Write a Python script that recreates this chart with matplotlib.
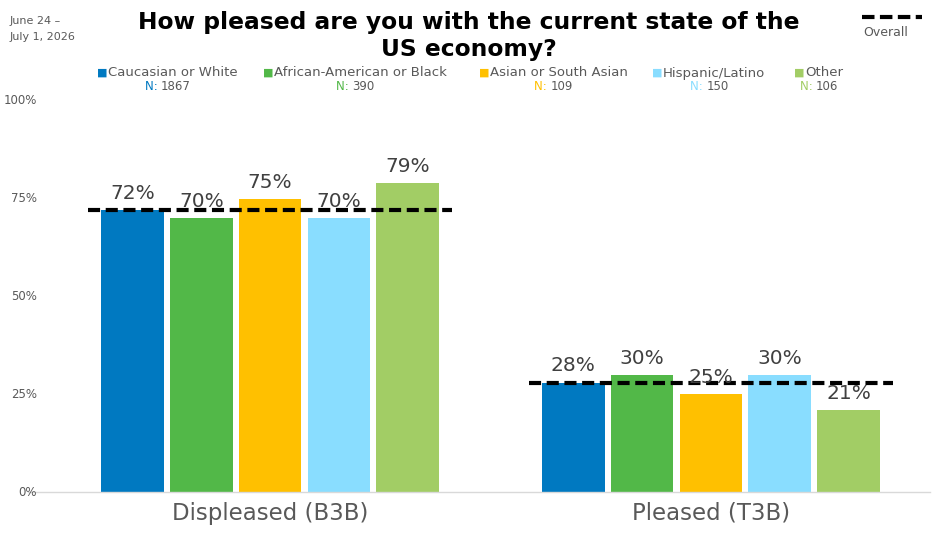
import matplotlib
matplotlib.use("Agg")
import matplotlib.pyplot as plt
import matplotlib.transforms as mtransforms
import numpy as np

# data
categories = ["Displeased (B3B)", "Pleased (T3B)"]
groups = ["Caucasian or White", "African-American or Black", "Asian or South Asian",
          "Hispanic/Latino", "Other"]
group_n = [1867, 390, 109, 150, 106]
values = {
    "Caucasian or White": [72, 28],
    "African-American or Black": [70, 30],
    "Asian or South Asian": [75, 25],
    "Hispanic/Latino": [70, 30],
    "Other": [79, 21],
}
overall = [72, 28]
colors = ["#0079C1", "#52B848", "#FFC000", "#89DDFF", "#A2CD65"]
yticks = [0, 25, 50, 75, 100]

plt.rcParams['font.family'] = ['DejaVu Sans']

W, H = 936, 540
fig = plt.figure(figsize=(W/100, H/100), dpi=100)
ax = fig.add_axes([28/W, 1-492/H, 902/W, 391/H])

x = np.arange(len(categories))
pitch = 0.156
width = 0.142
for i, g in enumerate(groups):
    xs = x + (i - 2) * pitch
    ax.bar(xs, values[g], width=width, color=colors[i], zorder=2)
    for xi, v in zip(xs, values[g]):
        ax.text(xi, v + 1.8, f"{v}%", ha="center", va="bottom",
                fontsize=14.5, color="#404040", zorder=4)

for xi, v in zip(x, overall):
    ax.plot([xi - 0.413, xi + 0.413], [v, v], color="black", lw=3,
            dashes=(2.9, 1.35), zorder=3)

ax.set_xlim(-0.549, 1.497)
ax.set_ylim(0, 100)
for s in ["top", "right", "left"]:
    ax.spines[s].set_visible(False)
ax.spines["bottom"].set_color("#D9D9D9")
ax.spines["bottom"].set_linewidth(1)
ax.set_yticks([])
ax.set_xticks([])

trans = mtransforms.blended_transform_factory(ax.transAxes, ax.transData)
for t in yticks:
    ax.text(9/902, t, f"{t}%", transform=trans, ha="right", va="center",
            fontsize=8.5, color="#595959")

for xi, c in zip(x, categories):
    ax.text(xi, -2.5, c, ha="center", va="top", fontsize=16.5, color="#595959")

# title and date
fig.text(469/W, 1-36/H, "How pleased are you with the current state of the\nUS economy?",
         ha="center", va="center", fontsize=16.8, fontweight="bold",
         color="black", linespacing=1.2)
fig.text(10/W, 1-29/H, "June 24 –\nJuly 1, 2026", ha="left", va="center",
         fontsize=8, color="#595959", linespacing=1.8)

# overall legend
fig.add_artist(plt.Line2D([862/W, 922/W], [1-17/H, 1-17/H], color="black",
                          lw=3, dashes=(3.0, 1.3), transform=fig.transFigure))
fig.text(886/W, 1-33/H, "Overall", ha="center", va="center", fontsize=9,
         color="#595959")

# group legend
leg_x = [97, 263, 479, 652, 794]
fig.canvas.draw()
rend = fig.canvas.get_renderer()
for i, g in enumerate(groups):
    fig.text(leg_x[i]/W, 1-73/H, "■", ha="left", va="center", fontsize=8,
             color=colors[i])
    t = fig.text((leg_x[i] + 11)/W, 1-73/H, g, ha="left", va="center",
                 fontsize=9.5, color="#595959")
    bb = t.get_window_extent(rend)
    tn = fig.text(0, 1-86/H, "N: ", ha="left", va="center", fontsize=8.5,
                  color=colors[i])
    tv = fig.text(0, 1-86/H, f"{group_n[i]}", ha="left", va="center",
                  fontsize=8.5, color="#595959")
    wn = tn.get_window_extent(rend).width
    wv = tv.get_window_extent(rend).width
    cx = (bb.x0 + bb.x1) / 2 - 5
    x0 = cx - (wn + wv) / 2
    tn.set_x(x0 / W)
    tv.set_x((x0 + wn) / W)

fig.savefig("out.png", dpi=100)
